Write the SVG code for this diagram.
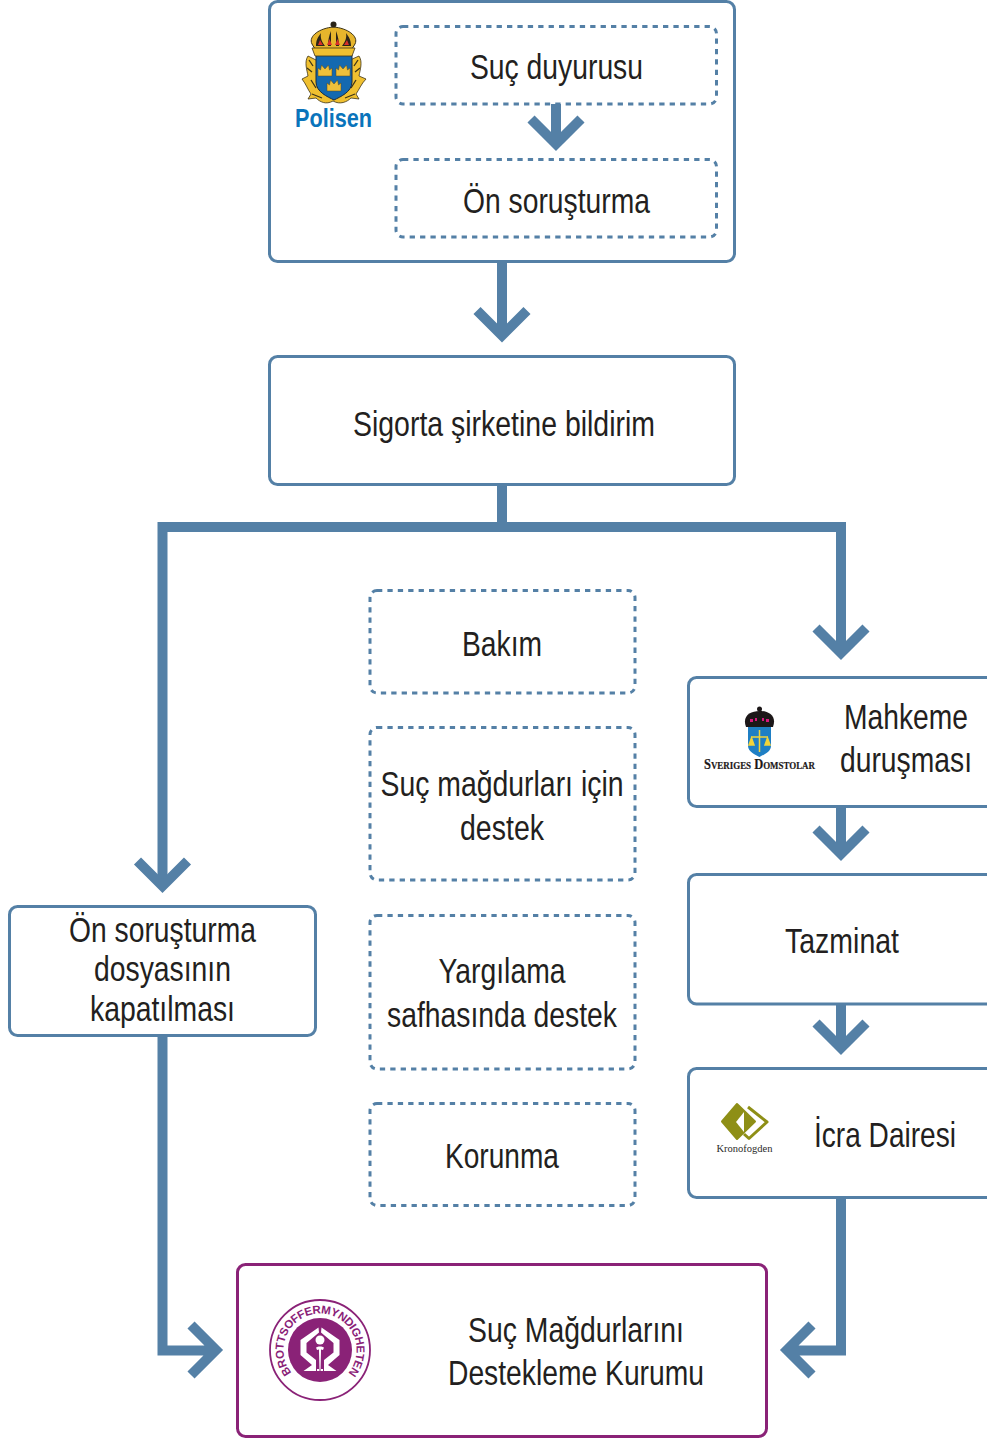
<svg xmlns="http://www.w3.org/2000/svg" width="987" height="1438" viewBox="0 0 987 1438">
<style>
.box{fill:#fff;stroke:#5480a6;stroke-width:3}
.dash{fill:#fff;stroke:#5480a6;stroke-width:3;stroke-dasharray:5.300 5.100}
.pbox{fill:#fff;stroke:#8a2277;stroke-width:3}
.t{font-family:"Liberation Sans",Arial,sans-serif;font-size:35px;fill:#231f20;text-anchor:middle}
.c{fill:none;stroke:#5480a6;stroke-width:10;stroke-miterlimit:10}
.gold{fill:#f0c030;stroke:#3d3418;stroke-width:.8}
.tc{fill:#efc03a;stroke:#5b4a18;stroke-width:.5}
</style>
<defs>
<path id="tre" d="M-7 7V-1L-4.500 1L-3.500 -4L0 0L3.500 -4L4.500 1L7 -1V7Z"/>
</defs>
<rect width="987" height="1438" fill="#fff"/>
<g id="node-police">
<rect class="box" x="269.500" y="1.500" width="465" height="260" rx="8"/>
<g id="polisen-logo">
<path class="gold" d="M308 56C304 62 307 70 308 76L302 79C306 84 308 90 311 94L308 99L316 98C320 102 326 105 333 101C340 105 347 102 351 98L359 99L356 94C359 90 361 84 366 79L359 76C360 70 363 62 359 56L350 60L316 60Z"/>
<path d="M309 60L313 66M307 68L312 72M358 60L354 66M360 68L355 72M312 94L322 98M355 94L345 98M311 80L316 88M356 80L351 88" stroke="#3d3418" stroke-width="1.300" fill="none"/>
<path d="M316 55H352V82C352 92 340 97 334 100C328 97 316 92 316 82Z" fill="#1469b0" stroke="#1a2a40" stroke-width="1"/>
<path d="M312 44C308 36 320 28 333.500 27C347 28 359 36 355 44L352 49H315Z" fill="#e6b52c" stroke="#3d3418" stroke-width="1"/>
<path d="M316 46C316 40 318 37 321 33C320 38 322 42 325 46ZM328 46C328 40 329 36 331 31C331 37 331 42 331 46ZM336 46C336 42 336 37 336 31C338 36 339 41 339 46ZM342 46C345 42 347 38 346 33C349 37 351 40 351 46Z" fill="#2a2418"/>
<path d="M318 45L320 40L323 45ZM327 45L329.500 39L332 45ZM335 45L337.500 39L340 45ZM344 45L347 40L349 45Z" fill="#d8302a"/>
<path class="gold" d="M312 48H355L352 56H315Z"/>
<circle cx="333.500" cy="24.500" r="3" fill="#2a2418"/>
<use href="#tre" class="tc" x="325" y="69"/>
<use href="#tre" class="tc" x="343" y="69"/>
<use href="#tre" class="tc" x="334" y="84"/>
<text x="333.500" y="127" font-family="'Liberation Sans',Arial,sans-serif" font-size="26" font-weight="700" fill="#0a74bb" text-anchor="middle" textLength="77" lengthAdjust="spacingAndGlyphs">Polisen</text>
</g>
</g>
<g id="node-suc-duyurusu">
<rect class="dash" x="396" y="26.500" width="320.500" height="77.500" rx="7"/>
<text class="t" x="556.500" y="79" textLength="173" lengthAdjust="spacingAndGlyphs">Suç duyurusu</text>
</g>
<g id="node-on-sorusturma">
<rect class="dash" x="396" y="159.500" width="320.500" height="77.500" rx="7"/>
<text class="t" x="556.500" y="213" textLength="187" lengthAdjust="spacingAndGlyphs">Ön soruşturma</text>
</g>
<g id="node-sigorta">
<rect class="box" x="269.500" y="356.500" width="465" height="128" rx="8"/>
<text class="t" x="504" y="436" textLength="302" lengthAdjust="spacingAndGlyphs">Sigorta şirketine bildirim</text>
</g>
<g id="node-bakim">
<rect class="dash" x="370" y="590.500" width="265" height="102.500" rx="7"/>
<text class="t" x="502" y="656" textLength="80" lengthAdjust="spacingAndGlyphs">Bakım</text>
</g>
<g id="node-destek">
<rect class="dash" x="370" y="727.500" width="265" height="152.500" rx="7"/>
<text class="t" x="502" y="796" textLength="243" lengthAdjust="spacingAndGlyphs">Suç mağdurları için</text>
<text class="t" x="502" y="840" textLength="84" lengthAdjust="spacingAndGlyphs">destek</text>
</g>
<g id="node-yargilama">
<rect class="dash" x="370" y="915.500" width="265" height="153.500" rx="7"/>
<text class="t" x="502" y="983" textLength="127" lengthAdjust="spacingAndGlyphs">Yargılama</text>
<text class="t" x="502" y="1027" textLength="230" lengthAdjust="spacingAndGlyphs">safhasında destek</text>
</g>
<g id="node-korunma">
<rect class="dash" x="370" y="1103.500" width="265" height="102" rx="7"/>
<text class="t" x="502" y="1168" textLength="114" lengthAdjust="spacingAndGlyphs">Korunma</text>
</g>
<g id="node-dosya">
<rect class="box" x="9.500" y="906.500" width="306" height="129" rx="8"/>
<text class="t" x="162.500" y="942" textLength="187" lengthAdjust="spacingAndGlyphs">Ön soruşturma</text>
<text class="t" x="162.500" y="981" textLength="137" lengthAdjust="spacingAndGlyphs">dosyasının</text>
<text class="t" x="162.500" y="1021" textLength="145" lengthAdjust="spacingAndGlyphs">kapatılması</text>
</g>
<g id="node-mahkeme">
<rect class="box" x="688.500" y="677.500" width="320" height="129" rx="8"/>
<g id="domstolar-logo">
<path d="M748 727H771V746C771 752 763 755 759.500 757C756 755 748 752 748 746Z" fill="#1f7fc4"/>
<path d="M746 727C742 716 750 711 759.500 711C769 711 777 716 773 727Z" fill="#1c1718"/>
<circle cx="759.500" cy="709" r="2.500" fill="#1c1718"/>
<path d="M750 719h3v3h-3zM755 718h2v3h-2zM762 718h2v3h-2zM766 719h3v3h-3z" fill="#d6177e"/>
<path d="M759.500 730V752M751 737H768M749 745L751.500 738L754 745ZM765 745L767.500 738L770 745Z" fill="#f2d43a" stroke="#f2d43a" stroke-width="1.500"/>
<text x="759.500" y="769" font-family="'Liberation Serif','Times New Roman',serif" font-size="14" font-weight="700" fill="#1c1718" stroke="#1c1718" stroke-width=".2" text-anchor="middle" style="font-variant:small-caps" textLength="111" lengthAdjust="spacingAndGlyphs">Sveriges Domstolar</text>
</g>
<text class="t" x="906" y="729" textLength="124" lengthAdjust="spacingAndGlyphs">Mahkeme</text>
<text class="t" x="906" y="772" textLength="132" lengthAdjust="spacingAndGlyphs">duruşması</text>
</g>
<g id="node-tazminat">
<rect class="box" x="688.500" y="874.500" width="320" height="129.500" rx="8"/>
<text class="t" x="842" y="953" textLength="114" lengthAdjust="spacingAndGlyphs">Tazminat</text>
</g>
<g id="node-icra">
<rect class="box" x="688.500" y="1068.500" width="320" height="129" rx="8"/>
<g id="kronofogden-logo">
<path d="M748 1107L767 1122L749 1138.500L744 1134" fill="none" stroke="#8e8f16" stroke-width="3" stroke-linejoin="round"/>
<path d="M737 1104L755 1121.500L737 1139L722 1121.500Z" fill="#8e8f16" stroke="#8e8f16" stroke-linejoin="round" stroke-width="2"/>
<path d="M744 1112L736 1122L744 1132Z" fill="#fff"/>
<text x="744.500" y="1152" font-family="'Liberation Serif','Times New Roman',serif" font-size="11" fill="#2b2a28" text-anchor="middle" textLength="56" lengthAdjust="spacingAndGlyphs">Kronofogden</text>
</g>
<text class="t" x="885" y="1147" textLength="142" lengthAdjust="spacingAndGlyphs">İcra Dairesi</text>
</g>
<g id="node-kurum">
<rect class="pbox" x="237.500" y="1264.500" width="529" height="172" rx="8"/>
<g id="brotts-logo">
<circle cx="320" cy="1350" r="50" fill="#fff" stroke="#8a2277" stroke-width="1.800"/>
<circle cx="320" cy="1350" r="32" fill="#8a2277"/>
<path id="brotts-arc" d="M291.500 1372.800A36.500 36.500 0 1 1 348.500 1372.800" fill="none"/>
<text font-family="'Liberation Sans',Arial,sans-serif" font-size="11.500" font-weight="700" fill="#8a2277"><textPath href="#brotts-arc" textLength="164" lengthAdjust="spacing">BROTTSOFFERMYNDIGHETEN</textPath></text>
<g id="hands" fill="#fff">
<path id="hand" d="M318.500 1327.500L300.500 1340V1355L312 1365L303.500 1371H316V1360L306.500 1352.500V1343L319 1332.500Z"/>
<path d="M321.500 1327.500L339.500 1340V1355L328 1365L336.500 1371H324V1360L333.500 1352.500V1343L321 1332.500Z"/>
<circle cx="320" cy="1340" r="4.500"/>
<path d="M316 1347.500C318 1346 322 1346 324 1347.500L323 1350L321 1349.500V1369H323V1371H320.500L320 1352L319.500 1371H317V1369H319V1349.500L317 1350Z"/>
</g>
</g>
<text class="t" x="576" y="1342" textLength="216" lengthAdjust="spacingAndGlyphs">Suç Mağdurlarını</text>
<text class="t" x="576" y="1385" textLength="256" lengthAdjust="spacingAndGlyphs">Destekleme Kurumu</text>
</g>
<g id="connectors" class="c">
<path d="M556 104V146M531 119L556 144L581 119"/>
<path d="M502 262V337M477 310.500L502 335.500L527 310.500"/>
<path d="M502 485V527M162.500 885V527H841V654"/>
<path d="M137.500 861L162.500 886L187.500 861"/>
<path d="M816 628L841 653L866 628"/>
<path d="M841 807V853M816 829L841 854L866 829"/>
<path d="M841 1005V1047M816 1023L841 1048L866 1023"/>
<path d="M162.500 1037V1350.500H214M191 1325L216 1350L191 1375"/>
<path d="M841 1198V1350.500H789M812 1325L787 1350L812 1375"/>
</g>
</svg>
